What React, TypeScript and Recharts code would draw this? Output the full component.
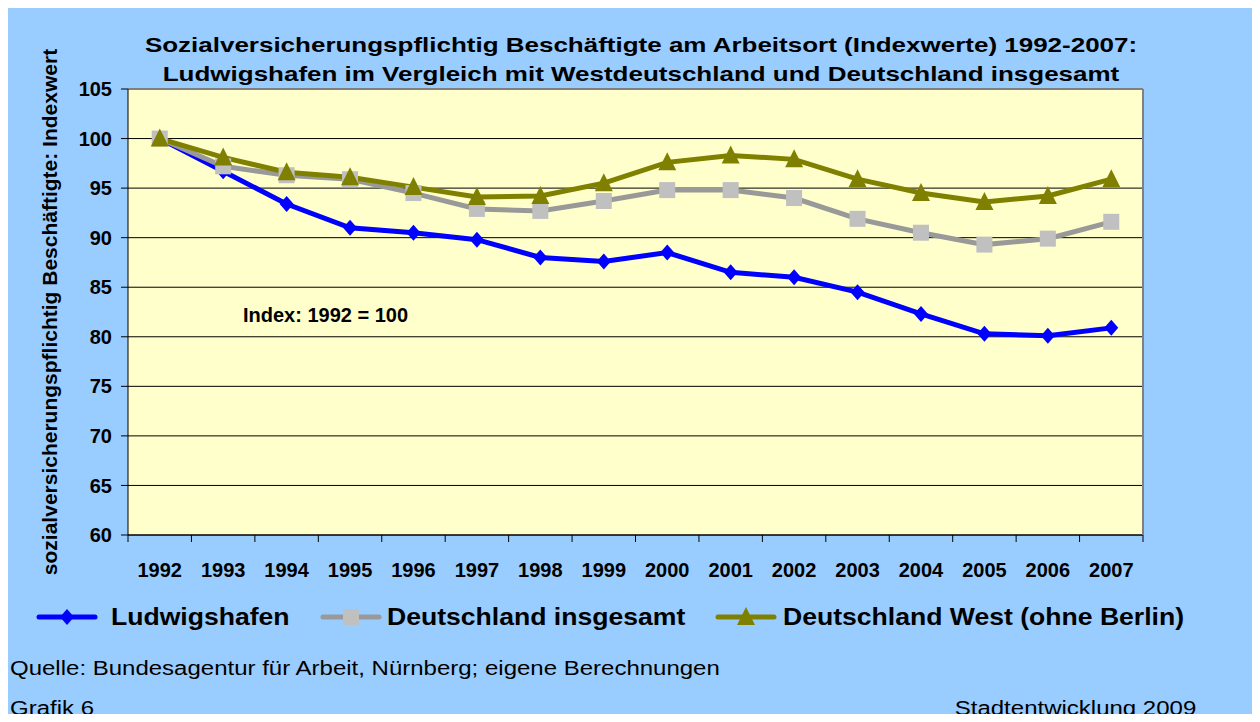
import { LineChart, Line, XAxis, YAxis, CartesianGrid, ReferenceLine } from 'recharts';

const years = ['1992', '1993', '1994', '1995', '1996', '1997', '1998', '1999', '2000', '2001', '2002', '2003', '2004', '2005', '2006', '2007'];
const ludwigshafen = [100, 96.7, 93.4, 91.0, 90.5, 89.8, 88.0, 87.6, 88.5, 86.5, 86.0, 84.5, 82.3, 80.3, 80.1, 80.9];
const deutschland = [100, 97.2, 96.3, 95.9, 94.5, 92.9, 92.7, 93.7, 94.8, 94.8, 94.0, 91.9, 90.5, 89.3, 89.9, 91.6];
const west = [100, 98.1, 96.6, 96.1, 95.1, 94.1, 94.2, 95.5, 97.6, 98.3, 97.9, 95.9, 94.5, 93.6, 94.2, 95.9];
const yTicks = [60, 65, 70, 75, 80, 85, 90, 95, 100, 105];

const data = years.map((year, i) => ({
  year,
  lu: ludwigshafen[i],
  de: deutschland[i],
  we: west[i],
}));

const FONT = '"Liberation Sans", Arial, sans-serif';
const W = 1252;
const H = 714;
const PLOT_W = 1015;
const BW = PLOT_W / years.length;

const BLUE = '#0000FF';
const GREY_LINE = '#999999';
const GREY_MARK = '#C0C0C0';
const OLIVE = '#808000';

const Diamond = (p: any) => {
  const { cx, cy, index } = p;
  return <path key={'d' + index} d={`M${cx} ${cy - 8} L${cx + 7} ${cy} L${cx} ${cy + 8} L${cx - 7} ${cy} Z`} fill={BLUE} />;
};

const Square = (p: any) => {
  const { cx, cy, index } = p;
  return <rect key={'s' + index} x={cx - 8} y={cy - 8} width={16} height={16} fill={GREY_MARK} />;
};

const Triangle = (p: any) => {
  const { cx, cy, index } = p;
  return <path key={'t' + index} d={`M${cx} ${cy - 10} L${cx + 9} ${cy + 8} L${cx - 9} ${cy + 8} Z`} fill={OLIVE} />;
};

const XTick = (p: any) => {
  const { x, y, payload, index } = p;
  return (
    <g>
      <line x1={x - BW / 2} x2={x - BW / 2} y1={y} y2={y + 7} stroke="#000" />
      {index === years.length - 1 && <line x1={x + BW / 2} x2={x + BW / 2} y1={y} y2={y + 7} stroke="#000" />}
      <text x={x} y={y + 42} textAnchor="middle" fontSize={20} fontWeight={700} fontFamily={FONT} fill="#000">
        {payload.value}
      </text>
    </g>
  );
};

// the original's text is drawn a bit wider than it is tall
const wide = (sx: number, origin: string): React.CSSProperties => ({
  position: 'absolute',
  whiteSpace: 'nowrap',
  transform: `scaleX(${sx})`,
  transformOrigin: origin,
});

function LegendIcon({ left, color, mark }: { left: number; color: string; mark: React.ReactNode }) {
  return (
    <svg width={62} height={22} style={{ position: 'absolute', left, top: 598 }}>
      <line x1={3} x2={59} y1={11} y2={11} stroke={color} strokeWidth={5} strokeLinecap="round" />
      {mark}
    </svg>
  );
}

export default function App() {
  return (
    <div style={{ position: 'relative', width: W, height: H, marginBottom: -8, background: '#99CCFF', fontFamily: FONT, overflow: 'hidden', color: '#000' }}>
      <div style={{ ...wide(1.237, 'center'), left: 633, top: 22, width: 0, display: 'flex', justifyContent: 'center' }}>
        <div style={{ textAlign: 'center', fontSize: 21, fontWeight: 700, lineHeight: '29px' }}>
          Sozialversicherungspflichtig Beschäftigte am Arbeitsort (Indexwerte) 1992-2007:
          <br />
          Ludwigshafen im Vergleich mit Westdeutschland und Deutschland insgesamt
        </div>
      </div>
      <div style={{ position: 'absolute', left: 42, top: 304, transform: 'translate(-50%, -50%) rotate(-90deg)', whiteSpace: 'nowrap', fontSize: 21, fontWeight: 700 }}>
        sozialversicherungspflichtig Beschäftigte: Indexwert
      </div>
      <LineChart width={W} height={706} data={data} margin={{ top: 81, right: 116, bottom: 139, left: 0 }}>
        <CartesianGrid vertical={false} fill="#FFFFCC" stroke="#000" strokeOpacity={1} />
        <ReferenceLine y={105} stroke="#808080" strokeWidth={2} />
        <XAxis
          dataKey="year"
          padding={{ left: BW / 2, right: BW / 2 }}
          axisLine={{ stroke: '#000' }}
          tickLine={false}
          tickSize={0}
          tickMargin={0}
          height={40}
          interval={0}
          tick={<XTick />}
        />
        <YAxis
          domain={[60, 105]}
          ticks={yTicks}
          width={120}
          axisLine={{ stroke: '#000' }}
          tickLine={{ stroke: '#000' }}
          tickSize={7}
          tickMargin={9}
          tick={{ fill: '#000', fontSize: 20, fontWeight: 700, fontFamily: FONT }}
        />
        <YAxis yAxisId="r" orientation="right" domain={[60, 105]} width={1} tick={false} tickLine={false} axisLine={{ stroke: '#808080', strokeWidth: 2 }} />
        <Line dataKey="lu" stroke={BLUE} strokeWidth={5} dot={Diamond} activeDot={false} isAnimationActive={false} />
        <Line dataKey="de" stroke={GREY_LINE} strokeWidth={5} dot={Square} activeDot={false} isAnimationActive={false} />
        <Line dataKey="we" stroke={OLIVE} strokeWidth={5} dot={Triangle} activeDot={false} isAnimationActive={false} />
      </LineChart>
      <div style={{ position: 'absolute', left: 235, top: 296, fontSize: 20, fontWeight: 700 }}>Index: 1992 = 100</div>

      <LegendIcon left={28} color={BLUE} mark={<path d="M31 3 L38 11 L31 19 L24 11 Z" fill={BLUE} />} />
      <LegendIcon left={312} color={GREY_LINE} mark={<rect x={23} y={3} width={16} height={16} fill={GREY_MARK} />} />
      <LegendIcon left={707} color={OLIVE} mark={<path d="M31 1 L40 19 L22 19 Z" fill={OLIVE} />} />
      <div style={{ ...wide(1.107, 'left'), left: 103, top: 595, fontSize: 24, fontWeight: 700 }}>Ludwigshafen</div>
      <div style={{ ...wide(1.107, 'left'), left: 379, top: 595, fontSize: 24, fontWeight: 700 }}>Deutschland insgesamt</div>
      <div style={{ ...wide(1.107, 'left'), left: 775, top: 595, fontSize: 24, fontWeight: 700 }}>Deutschland West (ohne Berlin)</div>

      <div style={{ ...wide(1.2, 'left'), left: 2, top: 649, fontSize: 20 }}>Quelle: Bundesagentur für Arbeit, Nürnberg; eigene Berechnungen</div>
      <div style={{ ...wide(1.2, 'left'), left: 2, top: 689, fontSize: 20 }}>Grafik 6</div>
      <div style={{ ...wide(1.2, 'right'), right: 64, top: 689, fontSize: 20 }}>Stadtentwicklung 2009</div>
    </div>
  );
}
